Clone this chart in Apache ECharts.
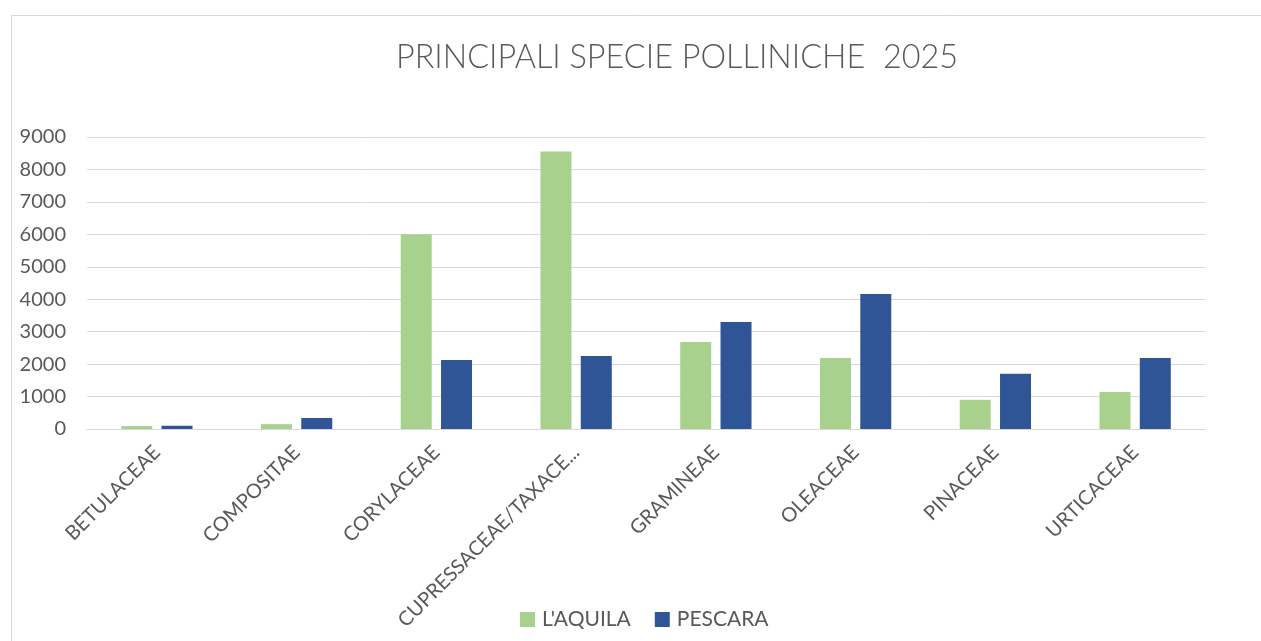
<!DOCTYPE html>
<html>
<head>
<meta charset="utf-8">
<script src="https://cdn.jsdelivr.net/npm/echarts@6/dist/echarts.min.js"></script>
<style>
html,body{margin:0;padding:0;background:#fff;}
#chart{width:1261px;height:641px;}
</style>
</head>
<body>
<div id="chart"></div>
<script>
const categories = ["BETULACEAE","COMPOSITAE","CORYLACEAE","CUPRESSACEAE/TAXACE...","GRAMINEAE","OLEACEAE","PINACEAE","URTICACEAE"];
const laquila = [90, 150, 6000, 8550, 2680, 2190, 900, 1140];
const pescara = [100, 340, 2130, 2250, 3300, 4160, 1700, 2190];
const seriesNames = ["L'AQUILA", "PESCARA"];
const titleText = "PRINCIPALI SPECIE POLLINICHE  2025";

const textColor = '#595959';
const font = 'Lato, "Open Sans", sans-serif';
const chart = echarts.init(document.getElementById('chart'));
chart.setOption({
  animation: false,
  backgroundColor: '#ffffff',
  title: {
    text: titleText,
    left: 672, top: 37, textAlign: 'center',
    textStyle: {fontFamily: font, fontWeight: 300, fontSize: 32.4, color: textColor}
  },
  graphic: [{
    type: 'rect', left: 9, top: 13, silent: true,
    shape: {width: 1260, height: 640},
    style: {fill: 'none', stroke: '#D9D9D9', lineWidth: 1}
  }],
  legend: {
    data: seriesNames,
    left: 515, top: 604,
    itemWidth: 15, itemHeight: 15, itemGap: 24,
    icon: 'rect',
    textStyle: {fontFamily: font, fontSize: 21, color: textColor, padding: [0,0,0,2]}
  },
  grid: {left: 87, right: 56, top: 137, bottom: 212, containLabel: false},
  xAxis: {
    type: 'category',
    data: categories,
    axisLine: {lineStyle: {color: '#D9D9D9', width: 1}},
    axisTick: {show: false},
    axisLabel: {rotate: 45, interval: 0, margin: 20, fontFamily: font, fontSize: 20, color: textColor}
  },
  yAxis: {
    type: 'value', min: 0, max: 9000, interval: 1000,
    axisLine: {show: false}, axisTick: {show: false},
    splitLine: {lineStyle: {color: '#D9D9D9', width: 1}},
    axisLabel: {margin: 21, fontFamily: font, fontSize: 20, color: textColor,
      formatter: function (v) { return String(v); }}
  },
  series: [
    {name: seriesNames[0], type: 'bar', data: laquila, barWidth: 31, barGap: '30%',
     itemStyle: {color: '#A9D18E'}},
    {name: seriesNames[1], type: 'bar', data: pescara, barWidth: 31,
     itemStyle: {color: '#2F5597'}}
  ]
});
</script>
</body>
</html>
